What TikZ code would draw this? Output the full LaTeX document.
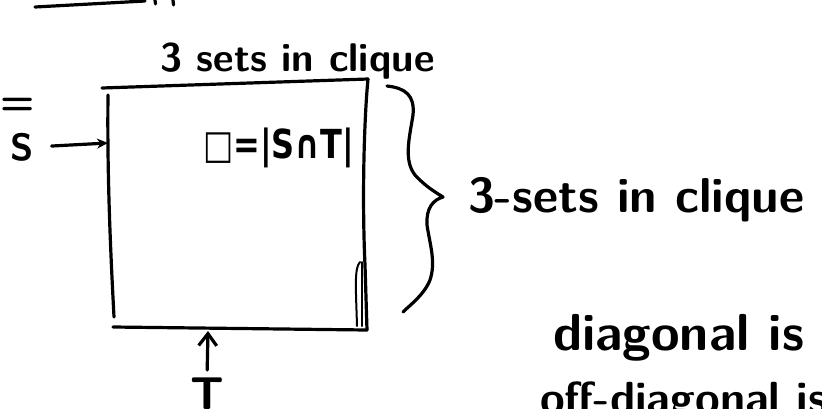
\documentclass[tikz,border=0pt]{standalone}
\usepackage{fontspec}
\newfontfamily\symfont{DejaVu Sans}
\usetikzlibrary{arrows.meta}
\begin{document}
\begin{tikzpicture}[x=1pt,y=-1pt,
  ink/.style={line width=3.2pt, line cap=round, line join=round},
  thinink/.style={line width=2pt, line cap=round, line join=round},
  hand/.style={inner sep=0pt, outer sep=0pt},
  bigtext/.style={hand, font=\sffamily\bfseries\fontsize{40}{46}\selectfont},
  hugetext/.style={hand, font=\sffamily\bfseries\fontsize{#1}{#1}\selectfont},
  lettertext/.style={hand, font=\sffamily\bfseries\fontsize{#1}{#1}\selectfont}]
\useasboundingbox (0,0) rectangle (822,408);
\clip (0,0) rectangle (822,408);

% leftover strokes along the top edge
\draw[ink] (35,7) -- (145,1);
\draw[ink] (155,0) -- (155.5,4);
\draw[ink] (173,0) -- (173.5,5);

% the matrix block
\coordinate (tl) at (102,88);
\coordinate (tr) at (368,79);
\coordinate (br) at (367,330);
\coordinate (bl) at (113,327);
\coordinate (lefttop) at (108,95);
\coordinate (leftbot) at (114,317);
\coordinate (sin) at (108,143);
\coordinate (tin) at (208,331);
\draw[ink] (tl) -- (tr);
\draw[ink] (lefttop) .. controls (107,180) and (111,260) .. (leftbot);
\draw[ink] (bl) -- (br);
\draw[ink] (tr) .. controls (364,120) and (362,200) .. (365,265) -- (br);
\draw[thinink] (360,262) .. controls (354,268) and (356,290) .. (357,326);
\draw[thinink] (362,262) -- (362,326);

% column label
\node[bigtext, anchor=base west] (cols) at (160,71) {3 sets in clique};

% row label with arrow
\node[lettertext=40] (eq) at (18,106) {=};
\node[lettertext=38] (S) at (22,147) {S};
\draw[ink, -{Stealth[length=11pt,width=10pt]}, shorten <=18pt] (S.east) -- (sin);

% entry label
\node[hand, font=\symfont\bfseries\fontsize{32}{36}\selectfont, anchor=base west, yscale=1.25] (entry) at (203,158) {□=|S∩T|};

% brace on the right
\coordinate (btop) at (387,86);
\coordinate (btip) at (443,197);
\coordinate (bbot) at (403,312);
\draw[ink] (btop) .. controls (405,88) and (415,95) .. (413,115)
  .. controls (410,135) and (403,160) .. (415,175)
  .. controls (425,186) and (435,192) .. (btip)
  .. controls (433,200) and (426,208) .. (427,225)
  .. controls (430,245) and (436,262) .. (430,280)
  .. controls (424,295) and (410,305) .. (bbot);
\node[hugetext=49, anchor=base west] (rows) at (468,212) {3-sets in clique};

% column index with arrow
\node[lettertext=46, anchor=north] (T) at (207,378) {T};
\draw[ink, -{Straight Barb[length=12pt,width=18pt]}, shorten <=8pt] (T.north) -- (tin);

% notes
\node[hugetext=52, anchor=base west] (diag) at (553,350) {diagonal is};
\node[hugetext=45, anchor=base west] (offdiag) at (540,413) {off-diagonal is};
\end{tikzpicture}
\end{document}
